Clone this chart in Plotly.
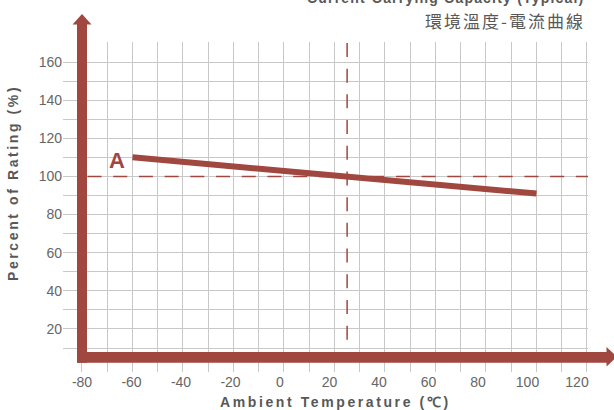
import plotly.graph_objects as go

# ---- data ----
curve_temp = [-60, 25, 100]
curve_rating = [110, 100, 91]
ref_rating = 100
ref_temp = 25
x_label_vals = [-80, -60, -40, -20, 0, 20, 40, 60, 80, 100, 120]
y_grid_vals = list(range(10, 171, 10))
y_label_vals = [20, 40, 60, 80, 100, 120, 140, 160]

RED = "#a0473f"
GRID = "#c8c8c8"
TXT = "#666666"
TTL = "#585858"
FONT = "Liberation Sans, Arial, sans-serif"

W, H = 614, 410
ML, MR, MT, MB = 63, 26, 42, 38
PW, PH = W - ML - MR, H - MT - MB


def fx(px):
    return (px - ML) / PW


def fy(py):
    return (H - MB - py) / PH


fig = go.Figure()

# label-carrying axis (invisible helper trace)
fig.add_trace(go.Scatter(x=x_label_vals, y=[None] * len(x_label_vals), xaxis="x2",
                         mode="markers", showlegend=False, hoverinfo="skip"))

# reference dashed lines
fig.add_trace(go.Scatter(x=[-77.8, 120.4], y=[ref_rating, ref_rating], mode="lines",
                         line=dict(color=RED, width=1.5, dash="14px,11.7px"),
                         showlegend=False, hoverinfo="skip"))
fig.add_trace(go.Scatter(x=[ref_temp, ref_temp], y=[170, 14], mode="lines",
                         line=dict(color=RED, width=1.5, dash="14px,11.7px"),
                         showlegend=False, hoverinfo="skip"))

# curve A
fig.add_trace(go.Scatter(x=curve_temp, y=curve_rating, mode="lines",
                         line=dict(color=RED, width=6), showlegend=False))

shapes = [
    # y axis shaft + head
    dict(type="path", xref="paper", yref="paper", fillcolor=RED, line=dict(width=0),
         path=f"M{fx(77)},{fy(24)} L{fx(87)},{fy(24)} L{fx(87)},{fy(362.7)} L{fx(77)},{fy(362.7)} Z"),
    dict(type="path", xref="paper", yref="paper", fillcolor=RED, line=dict(width=0),
         path=f"M{fx(72.5)},{fy(24.5)} L{fx(91.5)},{fy(24.5)} L{fx(82)},{fy(14)} Z"),
    # x axis shaft + head
    dict(type="path", xref="paper", yref="paper", fillcolor=RED, line=dict(width=0),
         path=f"M{fx(77)},{fy(352)} L{fx(607)},{fy(352)} L{fx(607)},{fy(362.7)} L{fx(77)},{fy(362.7)} Z"),
    dict(type="path", xref="paper", yref="paper", fillcolor=RED, line=dict(width=0),
         path=f"M{fx(606.5)},{fy(347)} L{fx(606.5)},{fy(366.5)} L{fx(617)},{fy(356.7)} Z"),
]

annotations = [
    dict(text='<span style="letter-spacing:2.6px">Percent of Rating (%)</span>',
         xref="paper", yref="paper", x=fx(13), y=fy(183), textangle=-90,
         showarrow=False, xanchor="center", yanchor="middle",
         font=dict(family=FONT, size=14, color=TTL, weight="bold")),
    dict(text='<span style="letter-spacing:2.6px">Ambient Temperature (℃)</span>',
         xref="paper", yref="paper", x=fx(335), y=fy(402),
         showarrow=False, xanchor="center", yanchor="middle",
         font=dict(family=FONT, size=14, color=TTL, weight="bold")),
    dict(text='<span style="letter-spacing:1.2px">Current-Carrying Capacity (Typical)</span>',
         xref="paper", yref="paper", x=fx(586), y=fy(-2),
         showarrow=False, xanchor="right", yanchor="middle",
         font=dict(family=FONT, size=14, color=TTL, weight="bold")),
    dict(text='<span style="letter-spacing:2px">環境溫度-電流曲線</span>',
         xref="paper", yref="paper", x=fx(587), y=fy(20),
         showarrow=False, xanchor="right", yanchor="middle",
         font=dict(family="Noto Sans CJK TC, sans-serif", size=17, color=TTL)),
    dict(text="A", xref="x", yref="y", x=-66.3, y=108.1,
         showarrow=False, xanchor="center", yanchor="middle",
         font=dict(family=FONT, size=22, color=RED, weight="bold")),
]

fig.update_layout(
    width=W, height=H,
    margin=dict(l=ML, r=MR, t=MT, b=MB),
    paper_bgcolor="white", plot_bgcolor="white",
    showlegend=False,
    shapes=shapes,
    annotations=annotations,
    xaxis=dict(range=[-87.52, 120.4], tick0=0, dtick=10, showgrid=True,
               gridcolor=GRID, gridwidth=1, showticklabels=False, zeroline=False,
               showline=False, ticks=""),
    xaxis2=dict(range=[-87.68, 124.44], overlaying="x", side="bottom",
                tickvals=x_label_vals, ticktext=[str(v) for v in x_label_vals],
                showgrid=False, zeroline=False, showline=False, ticks="",
                tickfont=dict(family=FONT, size=14, color=TXT)),
    yaxis=dict(range=[-2.59, 170.5], tickvals=y_grid_vals,
               ticktext=[str(v) if v in y_label_vals else "" for v in y_grid_vals],
               showgrid=True, gridcolor=GRID, gridwidth=1, zeroline=False,
               showline=False, ticks="",
               tickfont=dict(family=FONT, size=14, color=TXT)),
)

fig.write_html("out.html", config={"displayModeBar": False},
               post_script="document.body.style.margin='0';document.body.style.overflow='hidden';")
